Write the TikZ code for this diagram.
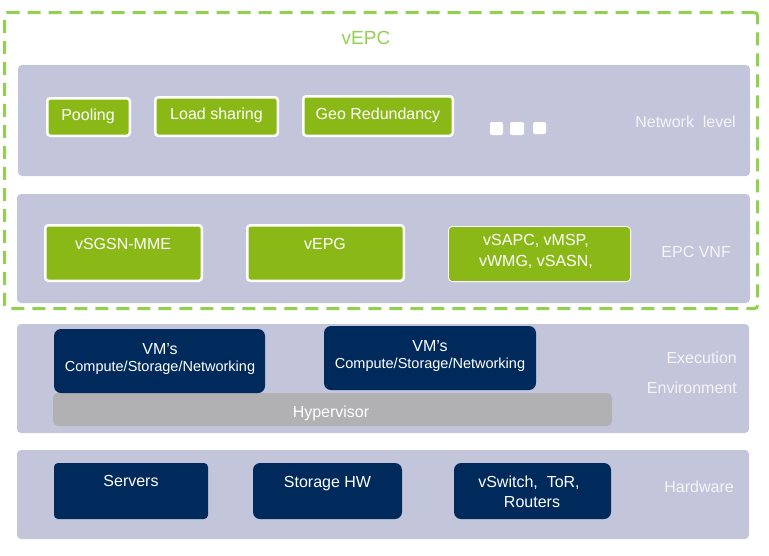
\documentclass[tikz,border=0pt]{standalone}
\usepackage{fontspec}
\setmainfont{Liberation Sans}
\usetikzlibrary{fit}
\definecolor{panelc}{HTML}{C3C6DA}
\definecolor{greenc}{HTML}{8AB917}
\definecolor{navyc}{HTML}{002A5C}
\definecolor{hypc}{HTML}{B1B1B3}
\definecolor{dashc}{HTML}{92D050}
\definecolor{labc}{HTML}{F4F4F8}
\tikzset{
  panel/.style={fill=panelc, rounded corners=4pt, inner sep=0pt},
  gbox/.style={fill=greenc, draw=white, line width=2.5pt, rounded corners=3pt, inner sep=-1.25pt},
  gboxthin/.style={fill=greenc, draw=white, line width=0.8pt, rounded corners=4pt, inner sep=-0.4pt},
  nbox/.style={fill=navyc, rounded corners=7pt, inner sep=0pt},
  hbox/.style={fill=hypc, rounded corners=5pt, inner sep=0pt},
  dotbox/.style={fill=white, rounded corners=2pt, inner sep=0pt},
  wtxt/.style={text=white, font=\fontsize{16}{18}\selectfont, inner sep=0pt, anchor=base},
  wsmall/.style={text=white, font=\fontsize{14.5}{16}\selectfont, inner sep=0pt, anchor=base},
  ltxt/.style={text=labc, font=\fontsize{16}{18}\selectfont, inner sep=0pt, anchor=base east},
}
\begin{document}
\begin{tikzpicture}[x=1pt,y=-1pt]
\useasboundingbox (0,0) rectangle (769,555);
% outer dashed frame
\node[draw=dashc, line width=3pt, dash pattern=on 13pt off 8pt, rounded corners=3pt, inner sep=-1.5pt, fit={(3,11) (759,310)}] (vepcframe) {};
\node[text=dashc, font=\fontsize{19}{21}\selectfont, inner sep=0pt, anchor=base] (vepc) at (366,44) {vEPC};
% panels
\node[panel, fit={(18,65) (750,176)}] (p1) {};
\node[panel, fit={(17,194) (750,303)}] (p2) {};
\node[panel, fit={(17,324) (749,433)}] (p3) {};
\node[panel, fit={(17,450) (749,539)}] (p4) {};
% network level
\node[gbox, fit={(46,97) (131,137)}] (pool) {};
\node[wtxt] (poolt) at (88,120) {Pooling};
\node[gbox, fit={(154,96) (279,137)}] (load) {};
\node[wtxt] (loadt) at (216.5,119) {Load sharing};
\node[gbox, fit={(302,95) (454,137)}] (geo) {};
\node[wtxt] (geot) at (378,119) {Geo Redundancy};
\node[dotbox, fit={(490,122) (503,135)}] (d1) {};
\node[dotbox, fit={(510,122) (524,135)}] (d2) {};
\node[dotbox, fit={(533,122) (546,134)}] (d3) {};
\node[ltxt] (netl) at (736,127) {Network\ \ level};
% EPC VNF
\node[gbox, fit={(44,224) (203,282)}] (sgsn) {};
\node[wtxt] (sgsnt) at (123,249) {vSGSN-MME};
\node[gbox, fit={(246,224) (405,282)}] (epg) {};
\node[wtxt] (epgt) at (325,249) {vEPG};
\node[gboxthin, fit={(448,226) (631,282)}] (sapc) {};
\node[wtxt] (sapct1) at (536,245) {vSAPC, vMSP,};
\node[wtxt] (sapct2) at (536,266) {vWMG, vSASN,};
\node[ltxt] (vnfl) at (731,257) {EPC VNF};
% execution environment
\node[hbox, fit={(53,393) (612,426)}] (hyp) {};
\node[wtxt] (hypt) at (331,417) {Hypervisor};
\node[nbox, fit={(54,329) (265,393)}] (vm1) {};
\node[wtxt] (vm1a) at (160,354) {VM’s};
\node[wsmall] (vm1b) at (160,371) {Compute/Storage/Networking};
\node[nbox, fit={(324,326) (536,390)}] (vm2) {};
\node[wtxt] (vm2a) at (430,351) {VM’s};
\node[wsmall] (vm2b) at (430,368) {Compute/Storage/Networking};
\node[ltxt] (exl1) at (737,363) {Execution};
\node[ltxt] (exl2) at (737,393) {Environment};
% hardware
\node[nbox, rounded corners=4pt, fit={(54,463) (208,519)}] (srv) {};
\node[wtxt] (srvt) at (131,486) {Servers};
\node[nbox, fit={(253,463) (402,519)}] (sto) {};
\node[wtxt] (stot) at (327.5,487) {Storage HW};
\node[nbox, fit={(454,463) (611,519)}] (vsw) {};
\node[wtxt] (vswt1) at (529,487) {vSwitch,\ \ ToR,};
\node[wtxt] (vswt2) at (532,507) {Routers};
\node[ltxt] (hwl) at (734,492) {Hardware};
\end{tikzpicture}
\end{document}
